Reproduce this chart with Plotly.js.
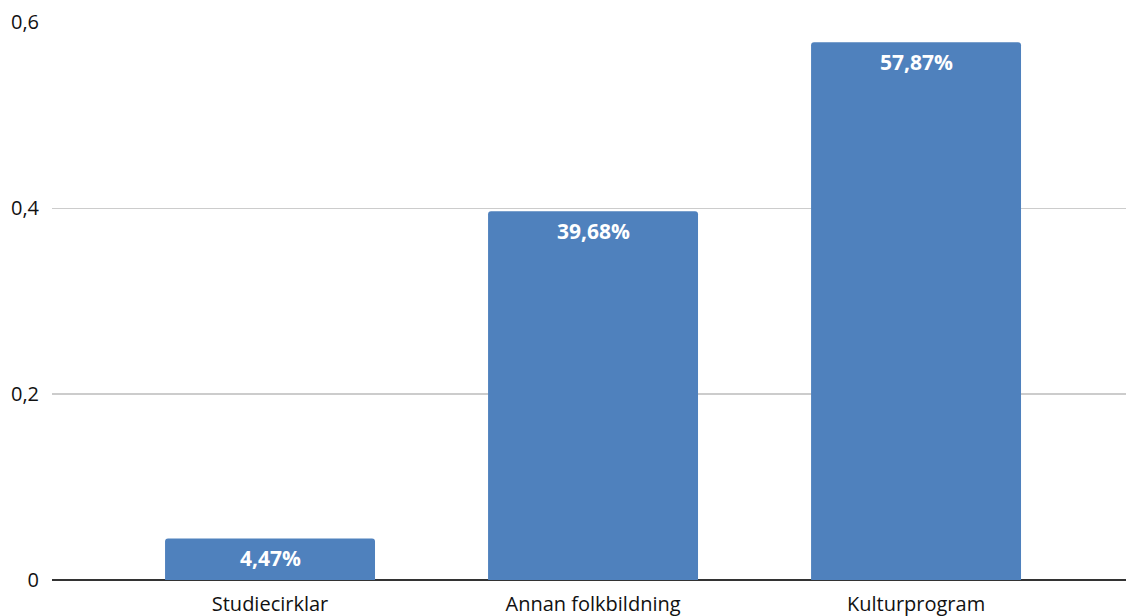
<!DOCTYPE html>
<html>
<head>
<meta charset="utf-8">
<script src="https://cdn.plot.ly/plotly-3.0.1.min.js"></script>
<style>html,body{margin:0;padding:0;background:#fff;}#chart{width:1126px;height:616px;}</style>
</head>
<body>
<div id="chart"></div>
<script>
const categories = ["Studiecirklar", "Annan folkbildning", "Kulturprogram"];
const values = [0.0447, 0.3968, 0.5787];
const labels = ["4,47%", "39,68%", "57,87%"];
const tickValues = [0, 0.2, 0.4, 0.6];
const tickLabels = ["0", "0,2", "0,4", "0,6"];

const trace = {
  type: "bar",
  x: categories,
  y: values,
  width: 0.65,
  marker: { color: "#4f81bd", line: { width: 0 } },
  hoverinfo: "none"
};

const annotations = categories.map((c, i) => ({
  x: c, y: values[i], xref: "x", yref: "y",
  text: labels[i], showarrow: false, yanchor: "middle", yshift: -20,
  font: { family: "Open Sans, sans-serif", size: 21, color: "#ffffff", weight: "bold" }
}));

const layout = {
  width: 1126, height: 616,
  margin: { l: 52, r: 0, t: 22, b: 36, pad: 0 },
  paper_bgcolor: "#ffffff", plot_bgcolor: "#ffffff",
  separators: ", ",
  showlegend: false,
  barcornerradius: 3,
  font: { family: "Open Sans, sans-serif", size: 20, color: "#111" },
  xaxis: {
    type: "category",
    range: [-0.675, 2.65],
    showgrid: false, zeroline: false, showline: false,
    ticks: "outside", ticklen: 6, tickcolor: "rgba(0,0,0,0)",
    tickfont: { size: 20, color: "#111" }
  },
  yaxis: {
    range: [0, 0.6005],
    tickvals: tickValues, ticktext: tickLabels,
    showgrid: true, gridcolor: "#cccccc", gridwidth: 1.5,
    zeroline: true, zerolinecolor: "#333333", zerolinewidth: 1.5,
    showline: false,
    ticks: "outside", ticklen: 8, tickcolor: "rgba(0,0,0,0)",
    tickfont: { size: 20, color: "#111" }
  },
  annotations: annotations
};

Plotly.newPlot("chart", [trace], layout, { displayModeBar: false, staticPlot: true });
</script>
</body>
</html>
